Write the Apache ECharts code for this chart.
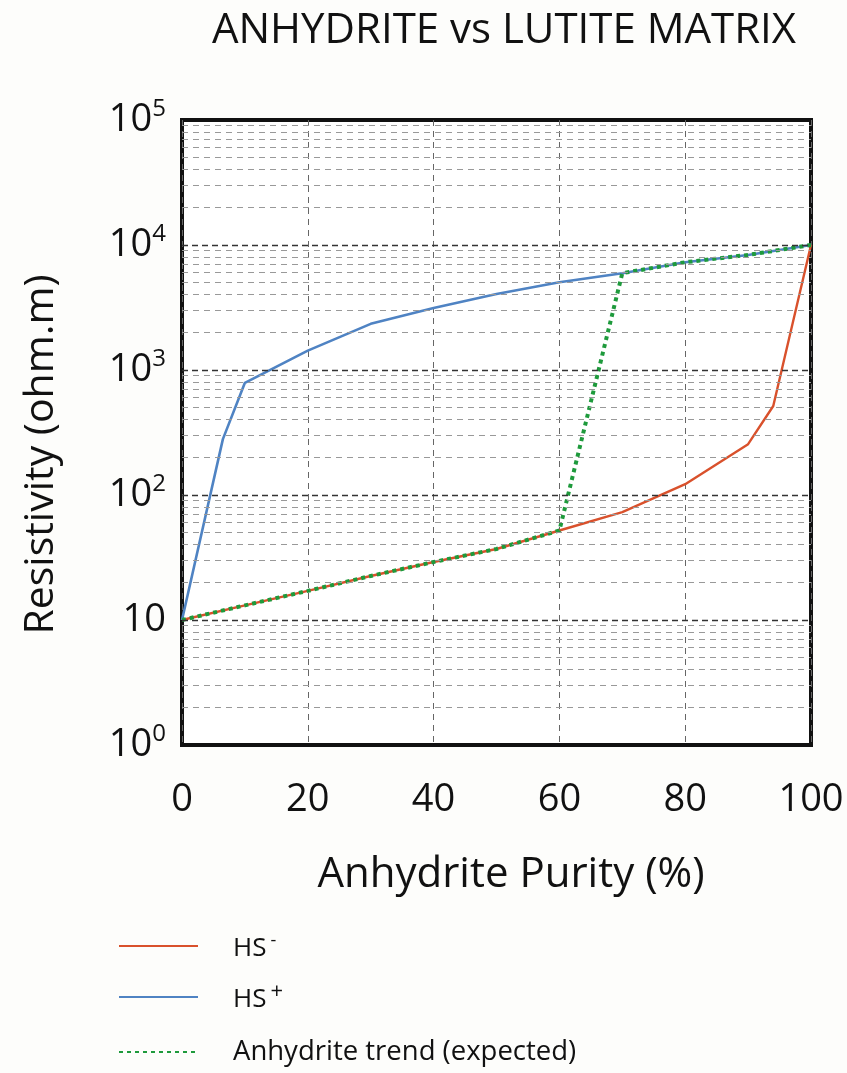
<!DOCTYPE html>
<html>
<head>
<meta charset="utf-8">
<script src="https://cdn.jsdelivr.net/npm/echarts@6/dist/echarts.min.js"></script>
<style>
html,body{margin:0;padding:0;background:#fdfdfb;}
#c{width:847px;height:1073px;}
</style>
</head>
<body>
<div id="c"></div>
<script>
// ---- data ----
const hsMinusX = [0, 10, 20, 30, 40, 50, 60, 70, 80, 90, 94, 100];
const hsMinusY = [10, 13.1, 17.1, 22.5, 29.1, 37, 52, 73, 122, 255, 515, 10000];
const hsPlusX = [0, 6.5, 10, 20, 30, 40, 50, 60, 70, 80, 90, 100];
const hsPlusY = [10, 280, 790, 1430, 2340, 3130, 4060, 5030, 5950, 7280, 8330, 10000];
const trendX = [0, 10, 20, 30, 40, 50, 60, 70, 80, 90, 100];
const trendY = [10, 13.1, 17.1, 22.5, 29.1, 37, 52, 5950, 7280, 8330, 10000];
const xTicks = [0, 20, 40, 60, 80, 100];
const yDecades = [1, 10, 100, 1000, 10000, 100000];
const minorMultipliers = [2, 3, 4, 5, 6, 7, 8, 9];

const FONT = 'Open Sans';
const zip = (xs, ys) => xs.map((x, i) => [x, ys[i]]);

const minorLines = [];
yDecades.slice(0, -1).forEach(d => minorMultipliers.forEach(m => minorLines.push({ yAxis: d * m })));
const majorLines = yDecades.slice(1, -1).map(d => ({ yAxis: d }));

function yLabel(v) {
  const e = Math.round(Math.log10(v));
  if (e === 1) return '{b|10}';
  return '{b|10}{s|' + e + '}';
}

const legendCommon = {
  orient: 'vertical', left: 113, itemWidth: 79, itemHeight: 14,
  itemStyle: { opacity: 0 }
};

const chart = echarts.init(document.getElementById('c'), null, { renderer: 'canvas' });
chart.setOption({
  backgroundColor: '#fdfdfb',
  animation: false,
  title: {
    text: 'ANHYDRITE vs LUTITE MATRIX',
    left: 499, top: 5, textAlign: 'center',
    textStyle: { fontFamily: FONT, fontSize: 42, fontWeight: 'normal', color: '#111' }
  },
  grid: {
    left: 182, right: 36, top: 120, bottom: 328,
    show: true, borderColor: '#111', borderWidth: 4, backgroundColor: '#fff'
  },
  xAxis: {
    type: 'value', min: 0, max: 100, interval: 20,
    name: 'Anhydrite Purity (%)', nameLocation: 'middle', nameGap: 109,
    nameTextStyle: { fontFamily: FONT, fontSize: 42, color: '#111', padding: [0, 0, 0, 29] },
    axisLine: { show: false }, axisTick: { show: false },
    axisLabel: { fontFamily: FONT, fontSize: 38, color: '#111', margin: 36 },
    splitLine: { show: true, lineStyle: { color: '#666', type: [6, 5], width: 1 } }
  },
  yAxis: {
    type: 'log', logBase: 10, min: 1, max: 100000,
    name: 'Resistivity (ohm.m)', nameLocation: 'middle', nameGap: 120,
    nameTextStyle: { fontFamily: FONT, fontSize: 41, color: '#111', padding: [0, 44, 0, 0] },
    axisLine: { show: false }, axisTick: { show: false },
    axisLabel: {
      margin: 16,
      formatter: yLabel,
      rich: {
        b: { fontFamily: FONT, fontSize: 38, color: '#111' },
        s: { fontFamily: FONT, fontSize: 24, color: '#111', verticalAlign: 'top', padding: [0, 0, 22, 0] }
      }
    },
    splitLine: { show: false }
  },
  legend: [
    Object.assign({}, legendCommon, {
      top: 927,
      data: ['HS-'], formatter: () => '{n|HS}{s|-}',
      textStyle: { padding: [6, 0, 0, 30], rich: {
        n: { fontFamily: FONT, fontSize: 26, color: '#111' },
        s: { fontFamily: FONT, fontSize: 18, color: '#111', verticalAlign: 'top', padding: [0, 0, 16, 4] } } }
    }),
    Object.assign({}, legendCommon, {
      top: 976,
      data: ['HS+'], formatter: () => '{n|HS}{s|+}',
      textStyle: { padding: [6, 0, 0, 30], rich: {
        n: { fontFamily: FONT, fontSize: 26, color: '#111' },
        s: { fontFamily: FONT, fontSize: 22, color: '#111', verticalAlign: 'top', padding: [0, 0, 16, 4] } } }
    }),
    Object.assign({}, legendCommon, {
      top: 1033,
      data: ['Anhydrite trend (expected)'],
      textStyle: { padding: [6, 0, 0, 30], fontFamily: FONT, fontSize: 27.5, color: '#111' }
    })
  ],
  series: [
    {
      name: 'grid-minor', type: 'line', data: [], silent: true,
      markLine: { silent: true, symbol: 'none', label: { show: false },
        lineStyle: { color: '#999', type: [6, 5], width: 1.2 }, data: minorLines }
    },
    {
      name: 'grid-major', type: 'line', data: [], silent: true,
      markLine: { silent: true, symbol: 'none', label: { show: false },
        lineStyle: { color: '#333', type: [6, 4], width: 1.3 }, data: majorLines }
    },
    {
      name: 'HS-', type: 'line', data: zip(hsMinusX, hsMinusY), symbol: 'none',
      lineStyle: { color: '#d9512c', width: 2.4 }, itemStyle: { color: '#d9512c' }, z: 3
    },
    {
      name: 'HS+', type: 'line', data: zip(hsPlusX, hsPlusY), symbol: 'none',
      lineStyle: { color: '#4f83c3', width: 2.6 }, itemStyle: { color: '#4f83c3' }, z: 3
    },
    {
      name: 'Anhydrite trend (expected)', type: 'line', data: zip(trendX, trendY), symbol: 'none',
      lineStyle: { color: '#1e9a3c', width: 4, type: [4, 4] }, itemStyle: { color: '#1e9a3c' }, z: 4
    }
  ]
});
</script>
</body>
</html>
